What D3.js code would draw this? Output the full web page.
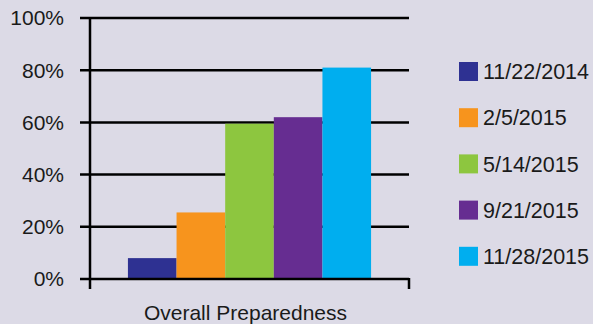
<!DOCTYPE html>
<html>
<head>
<meta charset="utf-8">
<script src="https://cdn.jsdelivr.net/npm/d3@7/dist/d3.min.js"></script>
<style>
  html, body { margin: 0; padding: 0; background: #dcdae6; }
  svg { display: block; font-family: "Liberation Sans", Arial, Helvetica, sans-serif; }
</style>
</head>
<body>
<svg id="chart" width="593" height="324"></svg>
<script>
// Survey dates and their share of "Overall Preparedness"
const categories = ["Overall Preparedness"];
const dates = ["11/22/2014", "2/5/2015", "5/14/2015", "9/21/2015", "11/28/2015"];
const values = [8, 25.5, 59.5, 62, 81];
const colors = ["#2e3192", "#f7941d", "#8dc63f", "#662d91", "#00aeef"];
const yTicks = [0, 20, 40, 60, 80, 100];

const svg = d3.select("#chart");
const W = 593, H = 324;
svg.append("rect").attr("width", W).attr("height", H).attr("fill", "#dcdae6");

const plot = { left: 90, right: 409, top: 18, bottom: 279 };

const y = d3.scaleLinear().domain([0, 100]).range([plot.bottom, plot.top]);
const x0 = d3.scaleBand().domain(categories).range([plot.left, plot.right]).paddingInner(0).paddingOuter(0.156);
const x1 = d3.scaleBand().domain(dates).range([0, x0.bandwidth()]).padding(0);

// Horizontal gridlines with tick stubs to the left of the axis
const grid = svg.append("g");
grid.selectAll("line").data(yTicks.filter(d => d > 0)).join("line")
  .attr("x1", plot.left - 10).attr("x2", plot.right)
  .attr("y1", d => y(d)).attr("y2", d => y(d))
  .attr("stroke", "#000").attr("stroke-width", 2.5);

// Bars
const g = svg.append("g").selectAll("g").data(categories).join("g")
  .attr("transform", d => `translate(${x0(d)},0)`);
g.selectAll("rect").data(dates.map((d, i) => ({ date: d, value: values[i], color: colors[i] }))).join("rect")
  .attr("x", d => x1(d.date))
  .attr("width", x1.bandwidth())
  .attr("y", d => y(d.value))
  .attr("height", d => y(0) - y(d.value))
  .attr("fill", d => d.color);

// Y axis labels
svg.append("g").selectAll("text").data(yTicks).join("text")
  .attr("x", 64).attr("y", d => y(d))
  .attr("dy", "0.35em")
  .attr("text-anchor", "end")
  .attr("font-size", 21)
  .attr("fill", "#1a1a1a")
  .text(d => d + "%");

// Axes frame
svg.append("line")
  .attr("x1", plot.left).attr("x2", plot.left)
  .attr("y1", plot.top).attr("y2", plot.bottom + 10)
  .attr("stroke", "#000").attr("stroke-width", 2.5);
svg.append("line")
  .attr("x1", plot.left - 10).attr("x2", plot.right)
  .attr("y1", plot.bottom).attr("y2", plot.bottom)
  .attr("stroke", "#000").attr("stroke-width", 2.5);
svg.append("line")
  .attr("x1", plot.right).attr("x2", plot.right)
  .attr("y1", plot.bottom - 1).attr("y2", plot.bottom + 10)
  .attr("stroke", "#000").attr("stroke-width", 2.5);

// Category label
svg.append("g").selectAll("text").data(categories).join("text")
  .attr("x", d => x0(d) + x0.bandwidth() / 2 - 4)
  .attr("y", 320)
  .attr("text-anchor", "middle")
  .attr("font-size", 21)
  .attr("fill", "#1a1a1a")
  .text(d => d);

// Legend
const legend = svg.append("g").selectAll("g").data(dates).join("g")
  .attr("transform", (d, i) => `translate(459, ${62 + i * 46.2})`);
legend.append("rect").attr("width", 19).attr("height", 19).attr("fill", (d, i) => colors[i]);
legend.append("text")
  .attr("x", 24).attr("y", 9.5).attr("dy", "0.36em")
  .attr("font-size", 21.5)
  .attr("fill", "#1a1a1a")
  .text(d => d);
</script>
</body>
</html>
